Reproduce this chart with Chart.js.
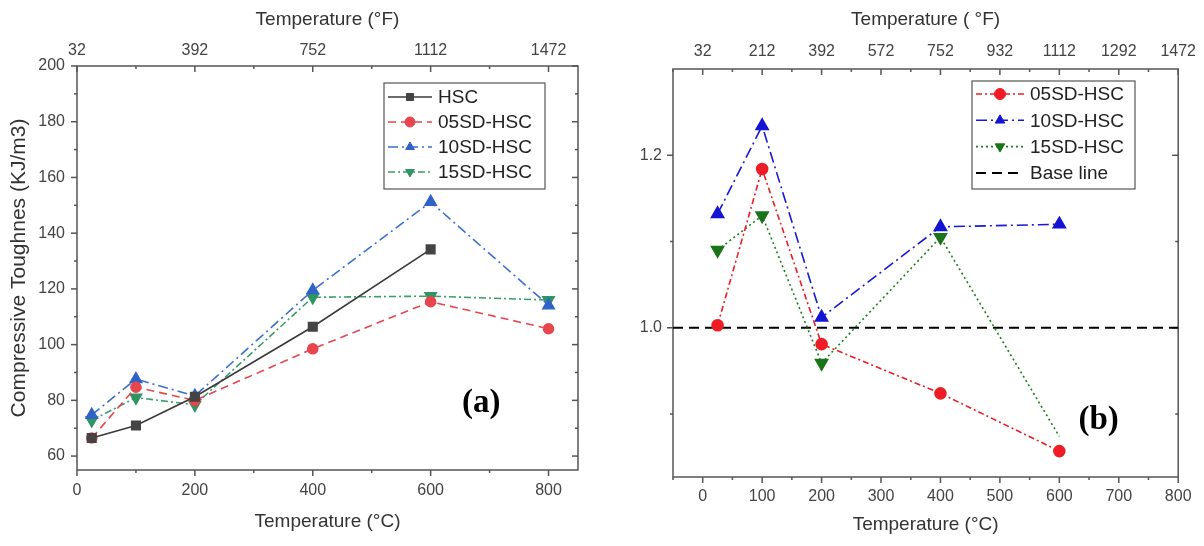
<!DOCTYPE html>
<html>
<head>
<meta charset="utf-8">
<script src="https://cdn.jsdelivr.net/npm/chart.js@4.4.0/dist/chart.umd.min.js"></script>
<style>
    html, body { margin: 0; padding: 0; background: #fff; }
    #wrap { position: relative; width: 1204px; height: 546px; }
    #toughChart { position: absolute; left: 0; top: 0; }
    #ratioChart { position: absolute; left: 600px; top: 0; }
</style>
</head>
<body>
<div id="wrap">
    <canvas id="toughChart" width="600" height="546"></canvas>
    <canvas id="ratioChart" width="604" height="546"></canvas>
</div>
<script>
// data (a) - compressive toughness
const tempC = [25, 100, 200, 400, 600, 800];
const hscTough = [66.5, 71, 81.3, 106.4, 134.2];
const sd05Tough = [66.5, 84.7, 80, 98.5, 115.4, 105.7];
const sd10Tough = [74.8, 87.6, 81.6, 119.5, 151.2, 114.1];
const sd15Tough = [72.8, 81, 78.4, 117, 117.4, 116];

// data (b) - ratio to HSC
const ratioTempC = [25, 100, 200, 400, 600];
const sd05Ratio = [1.003, 1.184, 0.981, 0.924, 0.857];
const sd10Ratio = [1.132, 1.234, 1.012, 1.117, 1.120];
const sd15Ratio = [1.090, 1.130, 0.959, 1.105, 0.874];
const baseTempC = [-50, 800];
const baseRatio = [1, 1];

// ticks
const celsiusTicksA = [0, 200, 400, 600, 800];
const celsiusMinorA = [100, 300, 500, 700];
const fahrenheitA = ['32', '392', '752', '1112', '1472'];
const toughTicks = [60, 80, 100, 120, 140, 160, 180, 200];
const toughMinor = [70, 90, 110, 130, 150, 170, 190];
const celsiusTicksB = [0, 100, 200, 300, 400, 500, 600, 700, 800];
const celsiusMinorB = [-50, 50, 150, 250, 350, 450, 550, 650, 750];
const fahrenheitB = ['32', '212', '392', '572', '752', '932', '1112', '1292', '1472'];
const ratioTicks = [1.0, 1.2];
const ratioMinor = [0.9, 1.1];

Chart.defaults.font.family = '"Liberation Sans", Arial, sans-serif';
Chart.defaults.color = '#444';

const pts = (xs, ys) => ys.map((y, i) => ({x: xs[i], y: y}));
const setTicks = list => scale => { scale.ticks = list.map(v => ({value: v})); };

// frame box + origin style tick marks
const frameTicks = {
    id: 'frameTicks',
    beforeDatasetsDraw(chart, args, opts) {
        const {ctx, chartArea: {left, right, top, bottom}} = chart;
        const xs = chart.scales.x, ys = chart.scales.y;
        ctx.save();
        ctx.strokeStyle = '#555';
        ctx.lineWidth = 1.5;
        ctx.strokeRect(left, top, right - left, bottom - top);
        const seg = (x1, y1, x2, y2) => { ctx.beginPath(); ctx.moveTo(x1, y1); ctx.lineTo(x2, y2); ctx.stroke(); };
        const xTick = (v, len) => {
            const px = xs.getPixelForValue(v);
            seg(px, bottom, px, bottom + len);
            seg(px, top, px, top + len);
        };
        const yTick = (v, len) => {
            const py = ys.getPixelForValue(v);
            seg(left, py, left - len, py);
            seg(right, py, right - len, py);
        };
        opts.xMajor.forEach(v => xTick(v, 6));
        opts.xMinor.forEach(v => xTick(v, 3));
        opts.yMajor.forEach(v => yTick(v, 6));
        opts.yMinor.forEach(v => yTick(v, 3));
        ctx.restore();
    }
};

// boxed legend inside the plot, line sample + marker
const boxLegend = {
    id: 'boxLegend',
    afterDraw(chart, args, opts) {
        const ctx = chart.ctx;
        ctx.save();
        ctx.strokeStyle = '#555';
        ctx.lineWidth = 1.2;
        ctx.strokeRect(opts.left, opts.top, opts.width, opts.height);
        chart.data.datasets.forEach((ds, i) => {
            const y = opts.firstRow + i * opts.rowGap;
            const x0 = opts.left + 4, x1 = x0 + opts.lineLen;
            ctx.strokeStyle = ds.borderColor;
            ctx.lineWidth = ds.borderWidth;
            ctx.setLineDash(ds.borderDash || []);
            ctx.beginPath(); ctx.moveTo(x0, y); ctx.lineTo(x1, y); ctx.stroke();
            ctx.setLineDash([]);
            if (ds.pointStyle) {
                ctx.fillStyle = ds.pointBackgroundColor;
                ctx.strokeStyle = ds.pointBorderColor;
                ctx.lineWidth = 1;
                Chart.helpers.drawPoint(ctx, {
                    pointStyle: ds.pointStyle, rotation: ds.pointRotation || 0,
                    radius: opts.markRadius, borderWidth: 1
                }, (x0 + x1) / 2, y);
            }
            ctx.fillStyle = '#222';
            ctx.font = opts.font;
            ctx.textBaseline = 'middle';
            ctx.fillText(ds.label, x1 + 6, y + 1);
        });
        ctx.restore();
    }
};

// panel tag (a)/(b) at data coordinates
const panelTag = {
    id: 'panelTag',
    afterDraw(chart, args, opts) {
        const ctx = chart.ctx;
        ctx.save();
        ctx.font = 'bold 33px "Liberation Serif", "Times New Roman", serif';
        ctx.fillStyle = '#000';
        ctx.textAlign = 'center';
        ctx.textBaseline = 'middle';
        ctx.fillText(opts.text, chart.scales.x.getPixelForValue(opts.x), chart.scales.y.getPixelForValue(opts.y));
        ctx.restore();
    }
};

function xScale(pos, min, max, ticks, labels, height, title, titlePad, labelPad) {
    return {
        type: 'linear', position: pos, min: min, max: max,
        afterBuildTicks: setTicks(ticks),
        afterFit: s => { s.height = height; },
        grid: {display: false, drawTicks: false},
        border: {display: false},
        ticks: {
            padding: labelPad, autoSkip: false, maxRotation: 0,
            font: {size: 16}, color: '#444',
            callback: labels ? (v, i) => labels[i] : v => v
        },
        title: {display: true, text: title, color: '#333', font: {size: 19}, padding: titlePad}
    };
}

// toughChart (a)
const toughChart = document.getElementById('toughChart');

new Chart(toughChart, {
    type: 'line',
    data: {
        datasets: [
            {
                label: 'HSC', data: pts(tempC, hscTough),
                borderColor: '#3a3a3a', borderWidth: 1.6, borderDash: [],
                pointStyle: 'rect', pointRadius: 6, pointBackgroundColor: '#444', pointBorderColor: '#444'
            },
            {
                label: '05SD-HSC', data: pts(tempC, sd05Tough),
                borderColor: '#e8464e', borderWidth: 1.6, borderDash: [8, 5],
                pointStyle: 'circle', pointRadius: 5, pointBackgroundColor: '#e8464e', pointBorderColor: '#e8464e'
            },
            {
                label: '10SD-HSC', data: pts(tempC, sd10Tough),
                borderColor: '#3a6fd0', borderWidth: 1.6, borderDash: [10, 4, 2, 4],
                pointStyle: 'triangle', pointRadius: 6.5, pointBackgroundColor: '#2f63c8', pointBorderColor: '#2f63c8'
            },
            {
                label: '15SD-HSC', data: pts(tempC, sd15Tough),
                borderColor: '#3a9d6c', borderWidth: 1.6, borderDash: [7, 3, 2, 3],
                pointStyle: 'triangle', pointRotation: 180, pointRadius: 6.5,
                pointBackgroundColor: '#2f9563', pointBorderColor: '#2f9563'
            }
        ]
    },
    options: {
        responsive: false,
        animation: false,
        layout: {padding: {right: 22}},
        plugins: {
            legend: {display: false},
            tooltip: {enabled: false},
            frameTicks: {xMajor: celsiusTicksA, xMinor: celsiusMinorA, yMajor: toughTicks, yMinor: toughMinor},
            boxLegend: {left: 384, top: 83, width: 161, height: 106, firstRow: 97, rowGap: 25, lineLen: 44, markRadius: 5, font: '19px "Liberation Sans", Arial, sans-serif'},
            panelTag: {text: '(a)', x: 686, y: 78.7}
        },
        scales: {
            x: xScale('bottom', 0, 850, celsiusTicksA, null, 76, 'Temperature (°C)', {bottom: 13}, 11),
            xTop: xScale('top', 0, 850, celsiusTicksA, fahrenheitA, 66, 'Temperature (°F)', {top: 8}, 6),
            y: {
                min: 55, max: 200,
                afterBuildTicks: setTicks(toughTicks),
                afterFit: s => { s.width = 77; },
                grid: {display: false, drawTicks: false},
                border: {display: false},
                ticks: {padding: 12, font: {size: 16}, color: '#444'},
                title: {display: true, text: 'Compressive Toughnes (KJ/m3)', color: '#333', font: {size: 21}, padding: {top: 7}}
            }
        }
    },
    plugins: [frameTicks, boxLegend, panelTag]
});

// ratioChart (b)
const ratioChart = document.getElementById('ratioChart');

new Chart(ratioChart, {
    type: 'line',
    data: {
        datasets: [
            {
                label: '05SD-HSC', data: pts(ratioTempC, sd05Ratio),
                borderColor: '#ee1d25', borderWidth: 1.6, borderDash: [6, 3, 2, 3],
                pointStyle: 'circle', pointRadius: 5.5, pointBackgroundColor: '#ee1d25', pointBorderColor: '#ee1d25'
            },
            {
                label: '10SD-HSC', data: pts(ratioTempC, sd10Ratio),
                borderColor: '#1818d8', borderWidth: 1.6, borderDash: [11, 4, 2, 4],
                pointStyle: 'triangle', pointRadius: 7, pointBackgroundColor: '#1414d4', pointBorderColor: '#1414d4'
            },
            {
                label: '15SD-HSC', data: pts(ratioTempC, sd15Ratio),
                borderColor: '#1f7d1f', borderWidth: 1.6, borderDash: [2, 3],
                pointStyle: 'triangle', pointRotation: 180, pointRadius: [7, 7, 7, 7, 0],
                pointBackgroundColor: '#1a741a', pointBorderColor: '#1a741a'
            },
            {
                label: 'Base line', data: pts(baseTempC, baseRatio),
                borderColor: '#000', borderWidth: 2, borderDash: [10, 6],
                pointRadius: 0, pointStyle: false
            }
        ]
    },
    options: {
        responsive: false,
        animation: false,
        layout: {padding: {right: 24}},
        plugins: {
            legend: {display: false},
            tooltip: {enabled: false},
            frameTicks: {xMajor: celsiusTicksB, xMinor: celsiusMinorB, yMajor: ratioTicks, yMinor: ratioMinor},
            boxLegend: {left: 372, top: 81, width: 163, height: 108, firstRow: 94, rowGap: 26.3, lineLen: 48, markRadius: 5.5, font: '19px "Liberation Sans", Arial, sans-serif'},
            panelTag: {text: '(b)', x: 666, y: 0.893}
        },
        scales: {
            x: xScale('bottom', -50, 800, celsiusTicksB, null, 69, 'Temperature (°C)', {bottom: 10}, 10),
            xTop: xScale('top', -50, 800, celsiusTicksB, fahrenheitB, 69, 'Temperature ( °F)', {top: 8}, 8),
            y: {
                min: 0.827, max: 1.30,
                afterBuildTicks: setTicks(ratioTicks),
                afterFit: s => { s.width = 73; },
                grid: {display: false, drawTicks: false},
                border: {display: false},
                ticks: {padding: 11, font: {size: 16}, color: '#444', callback: v => v.toFixed(1)}
            }
        }
    },
    plugins: [frameTicks, boxLegend, panelTag]
});
</script>
</body>
</html>
